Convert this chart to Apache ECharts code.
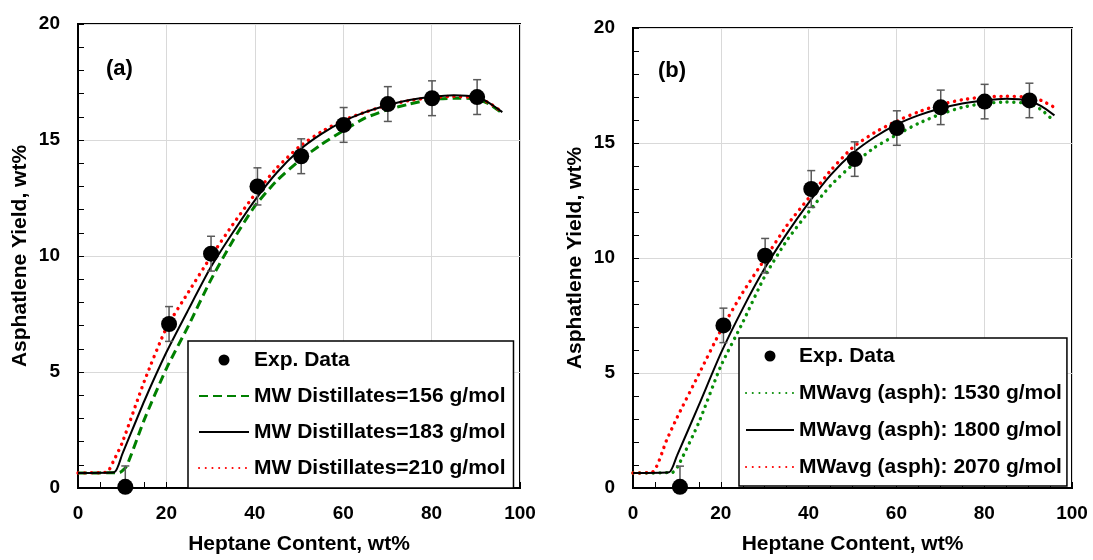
<!DOCTYPE html>
<html>
<head>
<meta charset="utf-8">
<script src="https://cdn.jsdelivr.net/npm/echarts@6/dist/echarts.min.js"></script>
<style>
html,body{margin:0;padding:0;background:#fff;}
#chart{width:1093px;height:560px;}
</style>
</head>
<body>
<div id="chart"></div>
<script>
// ---- Data ----
const xTicks = [0, 20, 40, 60, 80, 100];
const yTicks = [0, 5, 10, 15, 20];

const expX = [10.7, 20.6, 30.1, 40.6, 50.5, 60.1, 70.1, 80.1, 90.3];
const expY = [0.05, 7.07, 10.1, 13.0, 14.3, 15.65, 16.55, 16.8, 16.85];
const expErr = [0.9, 0.75, 0.75, 0.8, 0.75, 0.75, 0.75, 0.75, 0.75];

// Panel (a): MW distillates
const aNames = ['MW Distillates=156 g/mol', 'MW Distillates=183 g/mol', 'MW Distillates=210 g/mol'];
const a156 = [[0,0.65],[9.3,0.66],[11,0.95],[15,2.95],[20,5.15],[25,7.0],[30,8.95],[35,10.65],[40,12.15],[45,13.25],[50,14.1],[55,14.8],[60,15.4],[65,15.95],[70,16.3],[75,16.55],[80,16.75],[85,16.8],[90,16.78],[93,16.55],[96,16.15]];
const a183 = [[0,0.65],[8.2,0.68],[10,1.45],[15,3.75],[20,5.85],[25,7.7],[30,9.5],[35,11.0],[40,12.4],[45,13.6],[50,14.55],[55,15.25],[60,15.8],[65,16.2],[70,16.5],[75,16.72],[80,16.86],[85,16.93],[90,16.86],[93,16.6],[96,16.2]];
const a210 = [[0,0.65],[6.5,0.68],[8,1.15],[10,1.95],[15,4.6],[20,6.9],[25,8.45],[30,9.95],[35,11.35],[40,12.65],[45,13.8],[50,14.7],[55,15.35],[60,15.85],[65,16.2],[70,16.5],[75,16.7],[80,16.83],[85,16.88],[90,16.82],[93,16.6],[96,16.2]];

// Panel (b): MWavg (asph)
const bNames = ['MWavg (asph): 1530 g/mol', 'MWavg (asph): 1800 g/mol', 'MWavg (asph): 2070 g/mol'];
const b1530 = [[0,0.65],[9,0.68],[10.3,0.97],[15,2.85],[20,5.3],[25,7.2],[30,9.2],[35,10.75],[40,12.0],[45,13.15],[50,14.05],[55,14.8],[60,15.35],[65,15.85],[70,16.25],[75,16.55],[80,16.72],[85,16.78],[90,16.72],[93,16.45],[96,15.93]];
const b1800 = [[0,0.65],[8.2,0.68],[10,1.4],[15,3.6],[20,5.85],[25,7.8],[30,9.55],[35,11.05],[40,12.4],[45,13.6],[50,14.55],[55,15.25],[60,15.8],[65,16.2],[70,16.5],[75,16.72],[80,16.85],[85,16.92],[90,16.85],[93,16.6],[96,16.2]];
const b2070 = [[0,0.65],[4.5,0.7],[7.7,2.1],[10,3.05],[15,4.95],[20,6.85],[25,8.5],[30,9.95],[35,11.4],[40,12.6],[45,13.8],[50,14.8],[55,15.45],[60,15.95],[65,16.35],[70,16.67],[75,16.88],[80,17.0],[85,17.03],[90,17.0],[93,16.85],[96,16.55]];

// ---- Build ----
const FONT = 'Liberation Sans, Arial, sans-serif';
const expData = expX.map((x, i) => [x, expY[i]]);
const errData = expX.map((x, i) => [x, expY[i], expErr[i]]);

function renderErr(params, api) {
  const x = api.value(0), y = api.value(1), e = api.value(2);
  const t = api.coord([x, y + e]);
  const b = api.coord([x, y - e]);
  const hw = 4;
  const style = { stroke: '#595959', lineWidth: 1.5 };
  return {
    type: 'group',
    children: [
      { type: 'line', shape: { x1: t[0], y1: t[1], x2: b[0], y2: b[1] }, style },
      { type: 'line', shape: { x1: t[0] - hw, y1: t[1], x2: t[0] + hw, y2: t[1] }, style },
      { type: 'line', shape: { x1: b[0] - hw, y1: b[1], x2: b[0] + hw, y2: b[1] }, style }
    ]
  };
}

const titleFont = { fontSize: 21, fontWeight: 'bold', color: '#000', fontFamily: FONT };

function xAxisCfg(gi) {
  return {
    gridIndex: gi, type: 'value', min: 0, max: 100, interval: 20,
    name: 'Heptane Content, wt%', nameLocation: 'middle', nameGap: 46,
    nameTextStyle: titleFont,
    axisLine: { lineStyle: { color: '#000', width: 2 } },
    axisTick: { show: true, inside: true, length: 6, lineStyle: { color: '#000', width: 1 } },
    minorTick: { show: true, splitNumber: 4, length: 6, lineStyle: { color: '#000', width: 1 } },
    splitLine: { show: true, lineStyle: { color: '#d9d9d9', width: 1 } },
    axisLabel: { fontSize: 19, fontWeight: 'bold', color: '#000', margin: 16, fontFamily: FONT,
      formatter: v => xTicks.includes(v) ? String(v) : '' }
  };
}
function yAxisCfg(gi) {
  return {
    gridIndex: gi, type: 'value', min: 0, max: 20, interval: 5,
    name: 'Asphatlene Yield, wt%', nameLocation: 'middle', nameGap: 47,
    nameTextStyle: titleFont,
    axisLine: { show: true, lineStyle: { color: '#000', width: 2 } },
    axisTick: { show: true, inside: true, length: 6, lineStyle: { color: '#000', width: 1 } },
    minorTick: { show: true, splitNumber: 5, length: 6, lineStyle: { color: '#000', width: 1 } },
    splitLine: { show: true, lineStyle: { color: '#d9d9d9', width: 1 } },
    axisLabel: { fontSize: 19, fontWeight: 'bold', color: '#000', margin: 18, fontFamily: FONT,
      formatter: v => yTicks.includes(v) ? String(v) : '' }
  };
}

const dashed = { color: '#008000', width: 3, type: [9, 5] };
const solid = { color: '#000', width: 2, type: 'solid' };
const dottedRed = { color: '#ff0000', width: 3.4, type: [0.1, 6.6], cap: 'round' };
const dottedGreen = { color: '#0a8f0a', width: 3.4, type: [0.1, 6.6], cap: 'round' };

function lineSeries(name, data, gi, ls, z) {
  return { type: 'line', name, data, xAxisIndex: gi, yAxisIndex: gi, showSymbol: false, symbol: 'none',
    smooth: 0.2, lineStyle: ls, itemStyle: { color: ls.color }, z, silent: true, animation: false };
}
function expSeries(gi) {
  return [
    { type: 'custom', name: 'err' + gi, xAxisIndex: gi, yAxisIndex: gi, data: errData, renderItem: renderErr,
      encode: { x: 0, y: 1 }, clip: true, z: 5, silent: true, animation: false },
    { type: 'scatter', name: 'Exp. Data', xAxisIndex: gi, yAxisIndex: gi, data: expData, symbol: 'circle',
      symbolSize: 16, itemStyle: { color: '#000', opacity: 1 }, z: 6, animation: false, clip: false }
  ];
}

const legendText = { fontSize: 21, fontWeight: 'bold', color: '#000', fontFamily: FONT, lineHeight: 24 };
const noSym = { opacity: 0 };
function legendData(names) {
  return [{ name: 'Exp. Data', icon: 'circle' }].concat(names.map(n => ({ name: n, itemStyle: noSym })));
}

const option = {
  backgroundColor: '#fff',
  animation: false,
  title: [
    { text: '(a)', left: 106, top: 58, textStyle: { fontSize: 22, fontWeight: 'bold', color: '#000', fontFamily: FONT }, padding: 0 },
    { text: '(b)', left: 658, top: 60, textStyle: { fontSize: 22, fontWeight: 'bold', color: '#000', fontFamily: FONT }, padding: 0 }
  ],
  grid: [
    { left: 78, top: 24, width: 442, height: 472, show: true, borderColor: '#000', borderWidth: 2, backgroundColor: 'transparent', containLabel: false },
    { left: 633, top: 28, width: 439, height: 468, show: true, borderColor: '#000', borderWidth: 2, backgroundColor: 'transparent', containLabel: false }
  ],
  xAxis: [xAxisCfg(0), xAxisCfg(1)],
  yAxis: [yAxisCfg(0), yAxisCfg(1)],
  legend: [
    { orient: 'vertical', left: 188, top: 341, data: legendData(aNames),
      itemWidth: 50, itemHeight: 11, itemGap: 12, itemTextGap: 5, padding: [7, 8, 8, 10],
      borderColor: '#000', borderWidth: 1.5, backgroundColor: '#fff', textStyle: legendText, selectedMode: false },
    { orient: 'vertical', left: 739, top: 338, data: legendData(bNames),
      itemWidth: 48, itemHeight: 11, itemGap: 13, itemTextGap: 8, padding: [6, 5, 7, 6],
      borderColor: '#000', borderWidth: 1.5, backgroundColor: '#fff', textStyle: legendText, selectedMode: false }
  ],
  series: [
    lineSeries(aNames[0], a156, 0, dashed, 2),
    lineSeries(aNames[2], a210, 0, dottedRed, 3),
    lineSeries(aNames[1], a183, 0, solid, 4),
    ...expSeries(0),
    lineSeries(bNames[0], b1530, 1, dottedGreen, 2),
    lineSeries(bNames[2], b2070, 1, dottedRed, 3),
    lineSeries(bNames[1], b1800, 1, solid, 4),
    ...expSeries(1)
  ]
};

const chart = echarts.init(document.getElementById('chart'), null, { renderer: 'canvas' });
chart.setOption(option);
</script>
</body>
</html>
